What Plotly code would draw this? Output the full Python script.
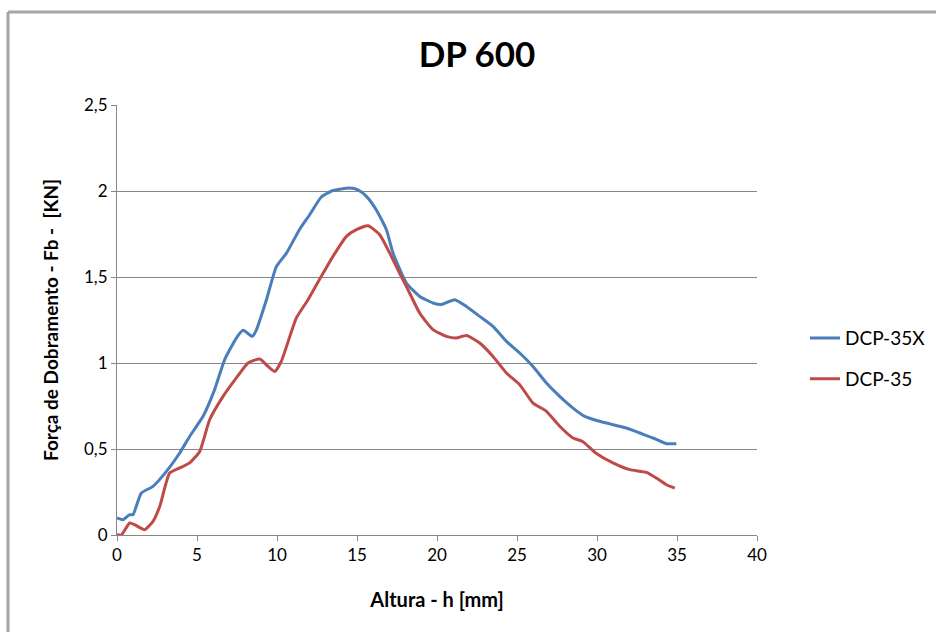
import plotly.graph_objects as go

# Altura (mm) e força de dobramento (kN) para cada ensaio
h_dcp35x = [0.0, 0.38, 0.79, 1.0, 1.52, 2.25, 3.09, 3.92, 4.54, 5.38, 6.1, 6.73, 7.46, 7.88,
            8.46, 8.7, 9.34, 9.96, 10.6, 11.4, 12.04, 12.77, 13.5, 14.54, 15.06, 15.59, 16.2,
            16.84, 17.25, 18.09, 18.92, 19.75, 20.27, 21.1, 21.84, 22.67, 23.5, 24.34, 25.17,
            26.0, 26.84, 27.67, 28.5, 29.23, 30.17, 31.0, 31.84, 32.67, 33.5, 34.34, 34.96]
f_dcp35x = [0.099, 0.089, 0.118, 0.118, 0.244, 0.283, 0.37, 0.477, 0.573, 0.69, 0.845, 1.02,
            1.145, 1.19, 1.155, 1.19, 1.368, 1.56, 1.64, 1.775, 1.862, 1.965, 2.003, 2.017,
            2.007, 1.969, 1.891, 1.775, 1.64, 1.465, 1.387, 1.349, 1.34, 1.368, 1.329, 1.271,
            1.213, 1.126, 1.058, 0.98, 0.884, 0.806, 0.738, 0.69, 0.661, 0.641, 0.622, 0.593,
            0.564, 0.531, 0.531]

h_dcp35 = [0.0, 0.27, 0.79, 1.1, 1.73, 2.25, 2.67, 3.29, 3.92, 4.54, 5.17, 5.79, 6.63, 7.46,
           8.19, 8.92, 9.44, 9.86, 10.27, 11.21, 11.94, 12.77, 13.5, 14.34, 14.96, 15.69,
           16.42, 17.04, 17.67, 18.09, 18.92, 19.75, 20.59, 21.2, 21.84, 22.67, 23.5, 24.34,
           25.17, 26.0, 26.84, 27.67, 28.5, 29.1, 29.92, 31.0, 32.04, 33.09, 33.71, 34.34, 34.86]
f_dcp35 = [0.002, 0.0, 0.07, 0.06, 0.031, 0.079, 0.166, 0.36, 0.39, 0.419, 0.486, 0.67, 0.806,
           0.913, 1.0, 1.023, 0.98, 0.951, 1.01, 1.262, 1.368, 1.504, 1.62, 1.736, 1.775, 1.798,
           1.746, 1.64, 1.52, 1.445, 1.29, 1.194, 1.155, 1.145, 1.16, 1.116, 1.038, 0.942,
           0.874, 0.767, 0.719, 0.632, 0.564, 0.544, 0.477, 0.419, 0.38, 0.364, 0.331, 0.292,
           0.273]

x_ticks = [0, 5, 10, 15, 20, 25, 30, 35, 40]
y_ticks = [0, 0.5, 1, 1.5, 2, 2.5]

FONT = "Lato"
GRID = "#868686"

fig = go.Figure()
fig.add_trace(go.Scatter(x=h_dcp35x, y=f_dcp35x, mode="lines", name="DCP-35X",
                         legendgroup="a",
                         line=dict(color="#4A7EBB", width=3, shape="spline", smoothing=0.5)))
fig.add_trace(go.Scatter(x=h_dcp35, y=f_dcp35, mode="lines", name="DCP-35",
                         legendgroup="b",
                         line=dict(color="#BE4B48", width=3, shape="spline", smoothing=0.5)))

fig.update_layout(
    width=936, height=632,
    margin=dict(l=117, r=179, t=105, b=97, autoexpand=False),
    paper_bgcolor="white", plot_bgcolor="white",
    separators=",.",
    title=dict(text="<b>DP 600</b>", x=477 / 936, xanchor="center",
               y=1 - 55 / 632, yanchor="middle",
               font=dict(family=FONT, size=35, color="#000")),
    font=dict(family=FONT, color="#000"),
    legend=dict(x=1.075, xanchor="left", y=0.41, yanchor="middle",
                font=dict(family=FONT, size=19, color="#000"),
                tracegroupgap=13, bgcolor="rgba(0,0,0,0)"),
    showlegend=True,
)

fig.update_xaxes(
    range=[0, 40], tickvals=x_ticks, ticktext=[str(v) for v in x_ticks],
    showgrid=False, zeroline=False,
    showline=True, linecolor=GRID, linewidth=1,
    ticks="outside", ticklen=5, tickcolor=GRID,
    tickfont=dict(family=FONT, size=17, color="#000"),
    title=dict(text="<b>Altura - h [mm]</b>", font=dict(family=FONT, size=20, color="#000"),
               standoff=28),
)
fig.update_yaxes(
    range=[0, 2.5], tickvals=y_ticks,
    showgrid=True, gridcolor=GRID, gridwidth=1, zeroline=False,
    showline=True, linecolor=GRID, linewidth=1,
    ticks="outside", ticklen=5, tickcolor=GRID,
    tickfont=dict(family=FONT, size=17, color="#000"),
    title=dict(text="<b>Força de Dobramento - Fb -  [KN]</b>",
               font=dict(family=FONT, size=19, color="#000"), standoff=20),
)

# Moldura da área do gráfico (esquerda e topo)
fig.add_shape(type="line", xref="paper", yref="paper",
              x0=(8 - 117) / 640, x1=(8 - 117) / 640, y0=-0.3, y1=(535 - 12) / 430,
              line=dict(color="#A6A6A6", width=3))
fig.add_shape(type="line", xref="paper", yref="paper",
              x0=(8 - 117) / 640, x1=1.4, y0=(535 - 12) / 430, y1=(535 - 12) / 430,
              line=dict(color="#A6A6A6", width=3))

fig.write_html("out.html")
